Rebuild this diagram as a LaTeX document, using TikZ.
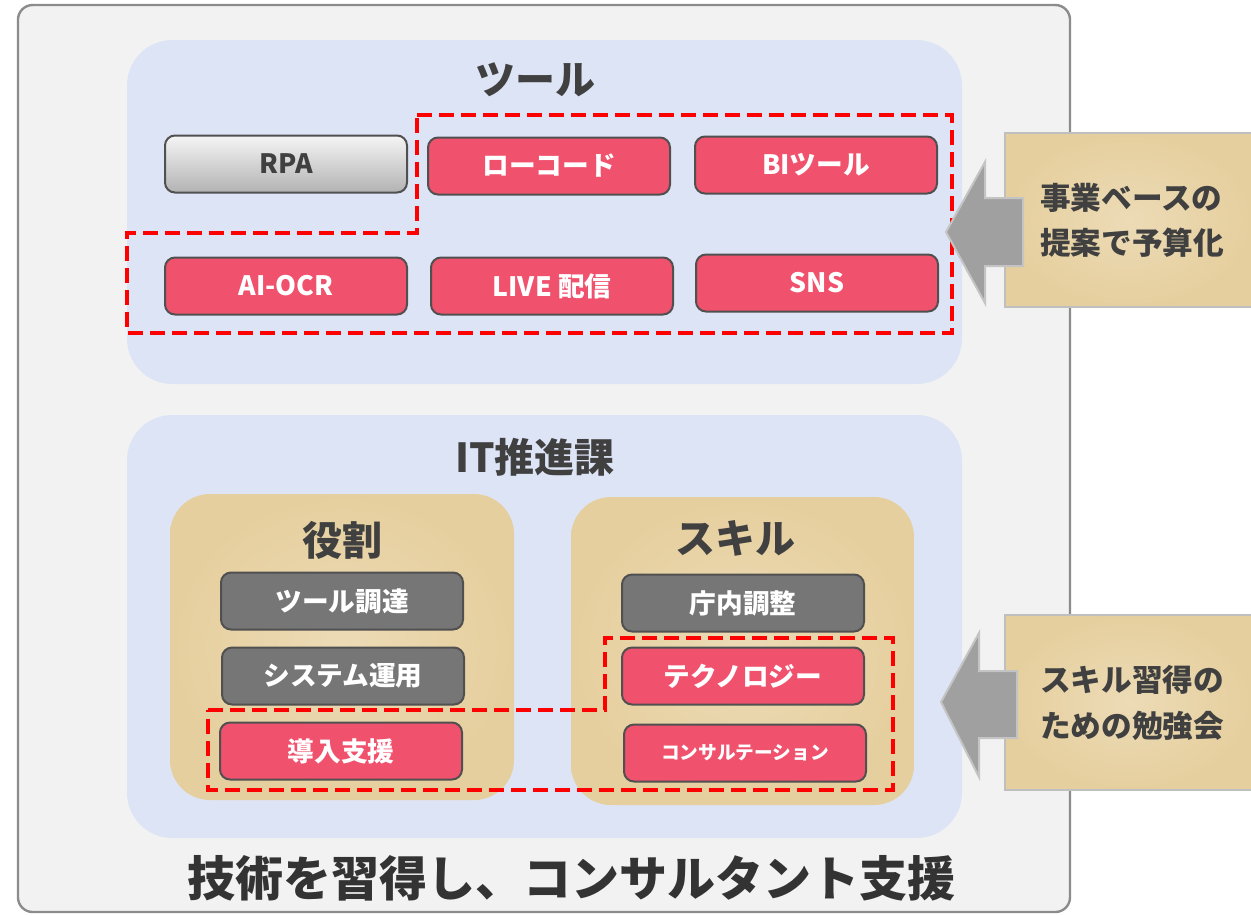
\documentclass[tikz,border=0pt]{standalone}
\usepackage{fontspec}
\setmainfont{Noto Sans CJK JP}
\definecolor{framefill}{HTML}{F2F2F2}
\definecolor{framedraw}{HTML}{8C8C8C}
\definecolor{panelblue}{HTML}{DDE4F6}
\definecolor{parch}{HTML}{E6CF9E}
\definecolor{pinkred}{HTML}{F0516D}
\definecolor{boxgray}{HTML}{767676}
\definecolor{boxline}{HTML}{505050}
\definecolor{txtdark}{HTML}{404040}
\definecolor{arrowgray}{HTML}{A0A0A0}
\definecolor{arrowline}{HTML}{C4C4C4}
\definecolor{sideline}{HTML}{BFBFBF}
\tikzset{
  basebox/.style={rounded corners=7.5pt, line width=1.5pt, draw=boxline,
    minimum width=181.5pt, minimum height=42.75pt, inner sep=0pt,
    font=\fontsize{20}{24}\selectfont\bfseries, text=white},
  pinkbox/.style={basebox, fill=pinkred},
  graybox/.style={basebox, fill=boxgray},
  rpabox/.style={basebox, top color=white!96!black, bottom color=black!30, text=txtdark},
  title/.style={font=\fontsize{30}{34}\selectfont\bfseries, text=txtdark},
  sidetext/.style={font=\fontsize{23}{34}\selectfont\bfseries, text=txtdark, align=left},
  reddash/.style={draw=red, line width=3.3pt, dash pattern=on 11pt off 5.5pt},
  blockarrow/.style={fill=arrowgray, draw=arrowline, line width=1.5pt},
  parchbox/.style={inner color=parch!75!white, outer color=parch},
}
\begin{document}
\begin{tikzpicture}[x=0.75pt, y=-0.75pt]
\useasboundingbox[fill=white] (0,0) rectangle (1251,915);
% outer frame
\draw[fill=framefill, draw=framedraw, line width=1.8pt, rounded corners=11pt] (18,5) rectangle (1070,912);
% panels
\fill[panelblue, rounded corners=34pt] (127,40) rectangle (962,384);
\fill[panelblue, rounded corners=34pt] (127,415) rectangle (962,838);
% titles
\node[title] (ttool) at (535,80) {ツール};
\node[title] (tit) at (535,457) {IT推進課};
% top boxes
\node[rpabox] (rpa) at (286,164) {RPA};
\node[pinkbox] (lowcode) at (549,166) {ローコード};
\node[pinkbox] (bi) at (816,165) {BIツール};
\node[pinkbox] (aiocr) at (286,286) {AI-OCR};
\node[pinkbox] (live) at (552,286) {LIVE 配信};
\node[pinkbox] (sns) at (817,283) {SNS};
% top dashed region
\draw[reddash] (417,115) -- (952,115) -- (952,333) -- (127,333) -- (127,233) -- (417,233) -- cycle;
% parchment panels
\shade[parchbox, rounded corners=30pt] (170,494) rectangle (514,800);
\shade[parchbox, rounded corners=30pt] (571,497) rectangle (914,805);
\node[title] (trole) at (342,540) {役割};
\node[title] (tskill) at (735,538) {スキル};
% bottom boxes
\node[graybox] (tool) at (342,601) {ツール調達};
\node[graybox] (sys) at (343,676) {システム運用};
\node[pinkbox] (intro) at (341,751) {導入支援};
\node[graybox] (chou) at (743,603) {庁内調整};
\node[pinkbox] (tech) at (743,676) {テクノロジー};
\node[pinkbox, font=\fontsize{14}{18}\selectfont\bfseries] (consul) at (745,753) {コンサルテーション};
% bottom dashed region
\draw[reddash] (208,710) -- (605,710) -- (605,638) -- (893,638) -- (893,790) -- (208,790) -- cycle;
% side boxes
\shade[parchbox, draw=sideline, line width=1.5pt] (1005,133) rectangle (1253,307);
\shade[parchbox, draw=sideline, line width=1.5pt] (1005,615) rectangle (1253,790);
\node[sidetext] (side1) at (1132,220) {事業ベースの\\提案で予算化};
\node[sidetext] (side2) at (1132,703) {スキル習得の\\ための勉強会};
% block arrows
\draw[blockarrow] (946,232) -- (985,162) -- (985,198) -- (1023,198) -- (1023,266) -- (985,266) -- (985,303) -- cycle;
\draw[blockarrow] (941,702) -- (979,633) -- (979,671) -- (1017,671) -- (1017,738) -- (979,738) -- (979,777) -- cycle;
% bottom text
\node[font=\fontsize{36}{40}\selectfont\bfseries, text=black!80] (bottom) at (571,878) {技術を習得し、コンサルタント支援};
\end{tikzpicture}
\end{document}
